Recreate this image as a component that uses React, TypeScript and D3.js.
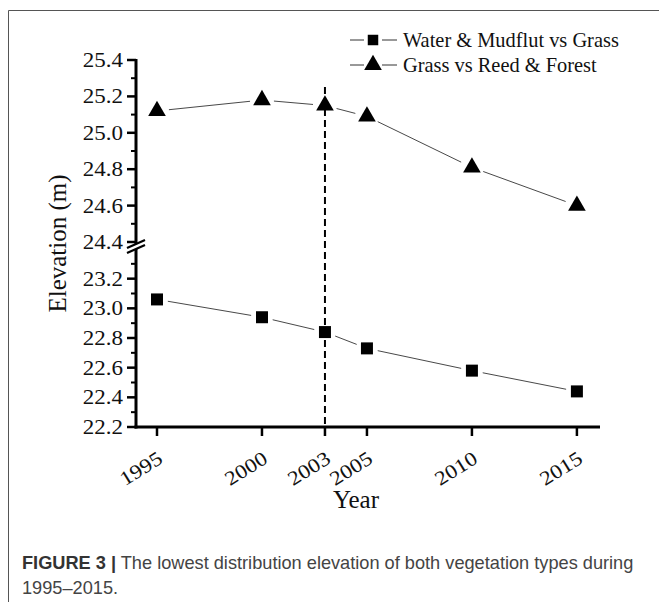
import * as d3 from 'd3'

const years = [1995, 2000, 2003, 2005, 2010, 2015]
const waterGrass = [23.06, 22.94, 22.84, 22.73, 22.58, 22.44]
const grassReed = [25.12, 25.18, 25.15, 25.09, 24.81, 24.6]
const seriesNames = ['Water & Mudflut vs Grass', 'Grass vs Reed & Forest']
const lowTicks = [22.2, 22.4, 22.6, 22.8, 23.0, 23.2]
const lowMinor = [22.3, 22.5, 22.7, 22.9, 23.1, 23.3]
const highTicks = [24.4, 24.6, 24.8, 25.0, 25.2, 25.4]
const highMinor = [24.5, 24.7, 24.9, 25.1, 25.3]
const splitYear = 2003

const serif = '"Liberation Serif", "Times New Roman", serif'
const sans = '"Liberation Sans", Arial, sans-serif'

// shorten a polyline into separate segments so the line stops short of the markers
function gappedSegments(pts: [number, number][], gap: number) {
  const out: string[] = []
  for (let i = 0; i < pts.length - 1; i++) {
    const [x1, y1] = pts[i]
    const [x2, y2] = pts[i + 1]
    const len = Math.hypot(x2 - x1, y2 - y1)
    const ux = (x2 - x1) / len
    const uy = (y2 - y1) / len
    out.push(
      `M${x1 + ux * gap},${y1 + uy * gap}L${x2 - ux * gap},${y2 - uy * gap}`
    )
  }
  return out
}

function TickLabel({ x, y, text, rotate = 0, anchor = 'end' }: any) {
  return (
    <g transform={`translate(${x},${y}) rotate(${rotate}) scale(1.15,1)`}>
      <text textAnchor={anchor} fontFamily={serif} fontSize={20} fill="#111">
        {text}
      </text>
    </g>
  )
}

export default function App() {
  const x = d3.scaleLinear().domain([1994, 2016.1]).range([136, 600])
  const yLow = d3.scaleLinear().domain([22.2, 23.4]).range([427, 249])
  const yHigh = d3.scaleLinear().domain([24.4, 25.4]).range([242, 60])
  const axisX = x.range()[0]
  const axisY = yLow.range()[0]
  const breakY = 246

  const sqPts = years.map((yr, i) => [x(yr), yLow(waterGrass[i])] as [number, number])
  const triPts = years.map((yr, i) => [x(yr), yHigh(grassReed[i])] as [number, number])

  const square = d3.symbol(d3.symbolSquare, 144)()!
  const triangle = d3.symbol(d3.symbolTriangle, 135)()!

  return (
    <svg width={659} height={602} style={{ position: 'absolute', left: 0, top: 0, background: '#fff' }}>
      {/* frame */}
      <path d="M8.5,602V10.5H659" fill="none" stroke="#555" strokeWidth={1} />

      {/* dashed marker year */}
      <line
        x1={x(splitYear)}
        x2={x(splitYear)}
        y1={87}
        y2={axisY}
        stroke="#000"
        strokeWidth={2}
        strokeDasharray="7,4"
      />

      {/* series lines */}
      {gappedSegments(sqPts, 11).map((d, i) => (
        <path key={'s' + i} d={d} stroke="#333" strokeWidth={0.9} fill="none" />
      ))}
      {gappedSegments(triPts, 12).map((d, i) => (
        <path key={'t' + i} d={d} stroke="#333" strokeWidth={0.9} fill="none" />
      ))}
      {sqPts.map(([px, py], i) => (
        <path key={'sq' + i} d={square} transform={`translate(${px},${py})`} fill="#000" />
      ))}
      {triPts.map(([px, py], i) => (
        <path key={'tr' + i} d={triangle} transform={`translate(${px},${py})`} fill="#000" />
      ))}

      {/* y axis */}
      <line x1={axisX} x2={axisX} y1={yHigh.range()[1] - 1} y2={axisY + 1.5} stroke="#000" strokeWidth={3} />
      {lowTicks.map(v => (
        <g key={'lt' + v}>
          <line x1={axisX - 9} x2={axisX} y1={yLow(v)} y2={yLow(v)} stroke="#000" strokeWidth={2.5} />
          <TickLabel x={axisX - 13} y={yLow(v) + 7} text={v.toFixed(1)} />
        </g>
      ))}
      {lowMinor.map(v => (
        <line key={'lm' + v} x1={axisX - 5} x2={axisX} y1={yLow(v)} y2={yLow(v)} stroke="#000" strokeWidth={2} />
      ))}
      {highTicks.map(v => (
        <g key={'ht' + v}>
          <line x1={axisX - 9} x2={axisX} y1={yHigh(v)} y2={yHigh(v)} stroke="#000" strokeWidth={2.5} />
          <TickLabel x={axisX - 13} y={yHigh(v) + 7} text={v.toFixed(1)} />
        </g>
      ))}
      {highMinor.map(v => (
        <line key={'hm' + v} x1={axisX - 5} x2={axisX} y1={yHigh(v)} y2={yHigh(v)} stroke="#000" strokeWidth={2} />
      ))}

      {/* axis break */}
      <path
        d={`M${axisX - 9},${breakY + 2}L${axisX + 9},${breakY - 6}L${axisX + 9},${breakY - 1}L${axisX - 9},${breakY + 7}Z`}
        fill="#fff"
      />
      <path
        d={`M${axisX - 9},${breakY + 2}L${axisX + 9},${breakY - 6}M${axisX - 9},${breakY + 7}L${axisX + 9},${breakY - 1}`}
        stroke="#000"
        strokeWidth={2.2}
      />

      {/* x axis */}
      <line x1={axisX - 1.5} x2={x.range()[1]} y1={axisY} y2={axisY} stroke="#000" strokeWidth={3} />
      {years.map(yr => (
        <g key={'xt' + yr}>
          <line x1={x(yr)} x2={x(yr)} y1={axisY} y2={axisY + 9} stroke="#000" strokeWidth={2.5} />
          <TickLabel x={x(yr) + 7} y={axisY + 35} text={String(yr)} rotate={-32} />
        </g>
      ))}

      {/* axis titles */}
      <text x={356} y={508} textAnchor="middle" fontFamily={serif} fontSize={25} fill="#111">
        Year
      </text>
      <text
        transform={`translate(66,${(yHigh.range()[1] + axisY) / 2}) rotate(-90)`}
        textAnchor="middle"
        fontFamily={serif}
        fontSize={25}
        fill="#111"
      >
        Elevation (m)
      </text>

      {/* legend */}
      {seriesNames.map((name, i) => {
        const ly = 40 + i * 25
        return (
          <g key={name}>
            <path d={`M350,${ly}H364M382,${ly}H397`} stroke="#333" strokeWidth={1} />
            <path
              d={i === 0 ? d3.symbol(d3.symbolSquare, 110)()! : triangle}
              transform={`translate(373,${ly})`}
              fill="#000"
            />
            <text x={403} y={ly + 7} fontFamily={serif} fontSize={20.4} fill="#111">
              {name}
            </text>
          </g>
        )
      })}

      {/* caption */}
      <text x={22} y={569} fontFamily={sans} fontSize={18.2} fill="#444">
        <tspan fontWeight="bold" fill="#333">FIGURE 3 |</tspan>
        <tspan> The lowest distribution elevation of both vegetation types during</tspan>
      </text>
      <text x={22} y={594} fontFamily={sans} fontSize={18.2} fill="#444">
        1995–2015.
      </text>
    </svg>
  )
}
